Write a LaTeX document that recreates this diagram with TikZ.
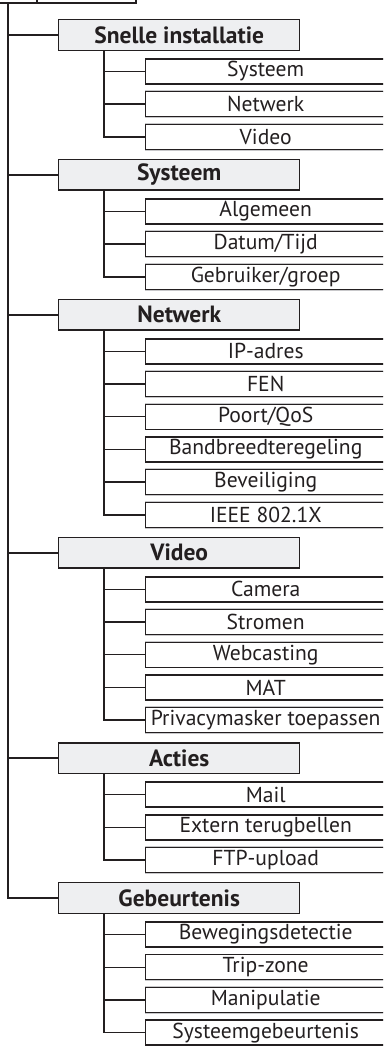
\documentclass[tikz,border=0pt]{standalone}
\usepackage{fontspec}
\setmainfont{PT Sans}
\usetikzlibrary{positioning}
\definecolor{lineink}{HTML}{231F20}
\definecolor{panelgrey}{HTML}{EEEFF1}
\definecolor{halogrey}{HTML}{C8C8CA}
% one menu group: name, y of its connector, title, list of items
\newcommand{\menugroup}[4]{%
  \node[menubox] (#1) at (58,#2) {#3};
  \draw[link] (trunk) |- (#1.west);
  \foreach \entry [count=\k] in {#4} {
    \node[itembox] (#1-\k) at (145,#2+36.5+32.7*\k-32.7) {\entry};
    \draw[link] ([xshift=46pt]#1.south west) |- (#1-\k.west);
  }}

\begin{document}
\begin{tikzpicture}[x=1pt,y=-1pt,
    link/.style={draw=lineink,line width=1.4pt},
    menubox/.style={link,fill=panelgrey,anchor=west,inner sep=0pt,
      minimum width=241pt,minimum height=30.5pt,text=lineink,
      font=\fontsize{23.5}{23.5}\selectfont\bfseries},
    itembox/.style={link,fill=white,anchor=west,inner sep=0pt,
      minimum width=240pt,minimum height=25pt,text=lineink,
      preaction={draw=halogrey,line width=2.4pt},
      font=\fontsize{21.6}{21.6}\selectfont}]
  \clip (0,0) rectangle (383,1046);
  % root box, only its lower edge is in view
  \draw[link] (-5,-30) rectangle (136,3);
  \draw[lineink,line width=2pt] (37,-1) -- (37,3);
  \coordinate (trunk) at (8,3);

  \menugroup{snelle}{35}{Snelle installatie}{Systeem,Netwerk,Video}
  \menugroup{systeem}{174.9}{Systeem}{Algemeen,Datum/Tijd,Gebruiker/groep}
  \menugroup{netwerk}{314.8}{Netwerk}{IP-adres,FEN,Poort/QoS,Bandbreedteregeling,Beveiliging,IEEE 802.1X}
  \menugroup{video}{552.8}{Video}{Camera,Stromen,Webcasting,MAT,Privacymasker toepassen}
  \menugroup{acties}{758.1}{Acties}{Mail,Extern terugbellen,FTP-upload}
  \menugroup{gebeurtenis}{898}{Gebeurtenis}{Bewegingsdetectie,Trip-zone,Manipulatie,Systeemgebeurtenis}
\end{tikzpicture}
\end{document}
